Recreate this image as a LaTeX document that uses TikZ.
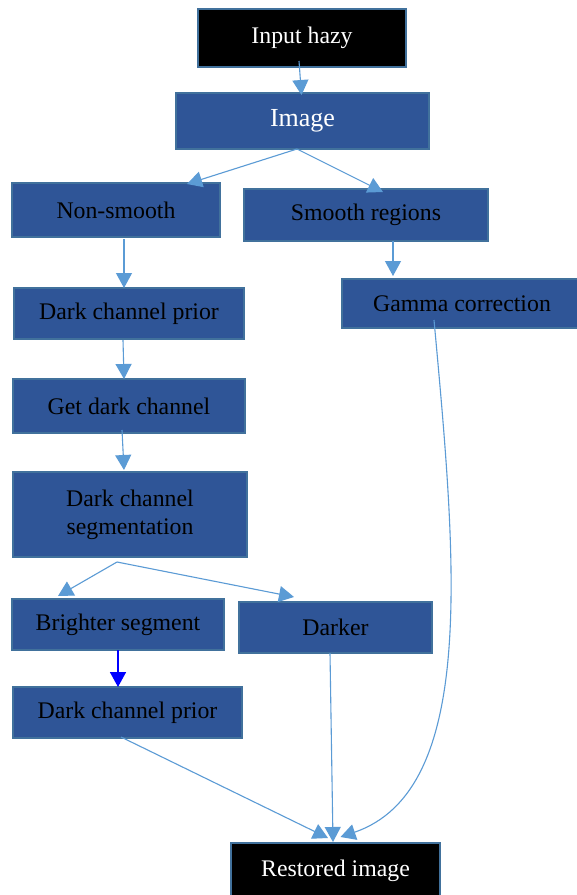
\documentclass[tikz,border=0pt]{standalone}
\usepackage{fontspec}
\setmainfont{Liberation Serif}
\usepackage{tikz}
\usetikzlibrary{calc,arrows.meta}
\definecolor{boxfill}{HTML}{2F5597}
\definecolor{boxline}{HTML}{41719C}
\definecolor{flowline}{HTML}{5B9BD5}

\begin{document}
\begin{tikzpicture}[x=1pt,y=-1pt,
		box/.style={draw=boxline,line width=1.5pt,fill=boxfill,inner sep=0pt,outer sep=0pt,
			font=\fontsize{23.8}{28}\selectfont,align=center},
		endbox/.style={box,fill=black,text=white},
		flow/.style={draw=flowline,line width=1.1pt,-{Triangle[width=16pt,length=15pt]}}]
		\useasboundingbox[fill=white] (0,0) rectangle (577,895);
		\node(1) [endbox,minimum width=208pt,minimum height=58pt] at (302,38) {Input hazy};
		\node(2) [box,text=white,font=\fontsize{26}{30}\selectfont,minimum width=253pt,minimum height=56pt] at (302.5,121) {\raisebox{-3pt}{Image}};
		\node(3) [box,minimum width=208pt,minimum height=54pt] at (116,210) {Non-smooth};
		\node(4) [box,minimum width=244pt,minimum height=52pt] at (366,215) {Smooth regions};
		\node(5) [box,minimum width=230pt,minimum height=51pt] at (129,313.5) {Dark channel prior};
		\node(6) [box,minimum width=240pt,minimum height=49pt] at (462,303.5) {Gamma correction};
		\node(7) [box,minimum width=232pt,minimum height=54pt] at (129,406) {Get dark channel};
		\node(8) [box,minimum width=234pt,minimum height=85pt] at (130,514.5) {Dark channel\\segmentation};
		\node(9) [box,minimum width=212pt,minimum height=51pt] at (118,624.5) {Brighter segment};
		\node(10) [box,minimum width=193pt,minimum height=51pt] at (335.5,627.5) {Darker};
		\node(11) [box,minimum width=229pt,minimum height=51pt] at (127.5,712.5) {Dark channel prior};
		\node(12) [endbox,minimum width=209pt,minimum height=56pt] at (335.5,871) {\raisebox{-3pt}{Restored image}};
		\path
			($(1.south)+(-3,-6)$) edge[flow] ($(2.north)+(-1,2)$)
			($(2.south)+(-5.5,0)$) edge[flow] ($(3.north east)+(-33,1)$)
			($(2.south)+(-5.5,0)$) edge[flow] ($(4.north)+(17,3)$)
			($(3.south)+(8,2)$) edge[flow] ($(5.north)+(-5,0)$)
			($(4.south)+(27,0)$) edge[flow] ($(6.north west)+(51,-3)$)
			($(5.south)+(-6,1)$) edge[flow] ($(7.north)+(-5,0)$)
			($(7.south)+(-7,-3)$) edge[flow] ($(8.north)+(-6,-2)$)
			($(8.south)+(-13,5)$) edge[flow] ($(9.north west)+(46,-3)$)
			($(8.south)+(-13,5)$) edge[flow] ($(10.north west)+(55,-5)$)
			(9.south) edge[flow,draw=blue,line width=1.6pt] ($(11.north)+(-9.5,0)$)
			($(11.south)+(-6.5,-1)$) edge[flow] ($(12.north)+(-7.5,-5)$)
			($(10.south)+(-5.5,0)$) edge[flow] ($(12.north)+(-2.5,-1)$);
		\draw[flow] ($(6.south)+(-28,-8)$) .. controls (456,560) and (478,790) .. ($(12.north)+(5,-6)$);
	\end{tikzpicture}
\end{document}
